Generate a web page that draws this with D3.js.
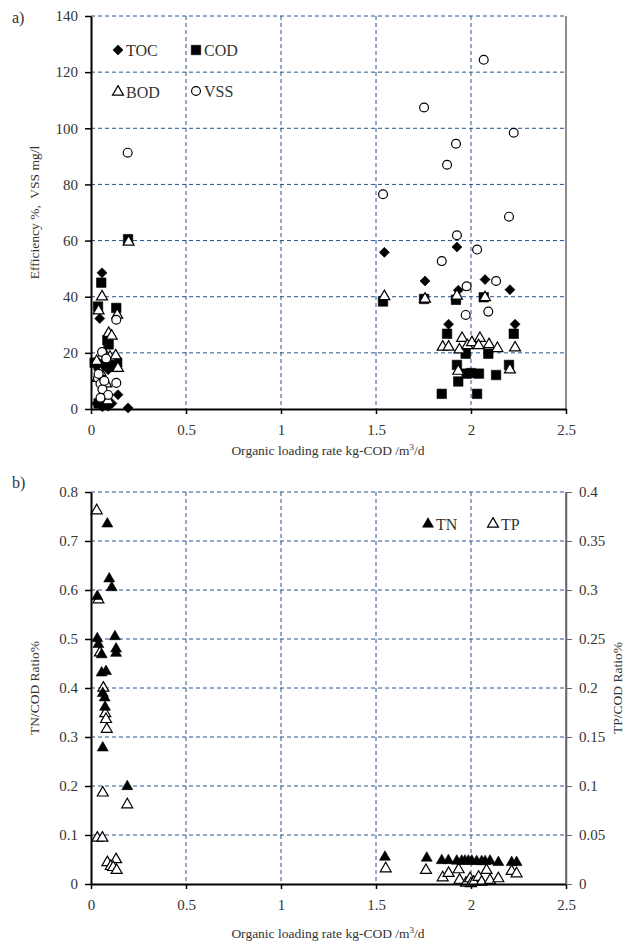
<!DOCTYPE html>
<html>
<head>
<meta charset="utf-8">
<script src="https://cdn.jsdelivr.net/npm/d3@7"></script>
<style>
  body { margin: 0; background: #fff; }
  svg text { font-family: "Liberation Serif", "DejaVu Serif", serif; fill: #333; white-space: pre; }
</style>
</head>
<body>
<svg id="chart" width="627" height="943"></svg>
<script>
(function() {

  // Tick values
  var xTicks = [0, 0.5, 1, 1.5, 2, 2.5];
  var effTicks = [0, 20, 40, 60, 80, 100, 120, 140];
  var tnTicks = [0, 0.1, 0.2, 0.3, 0.4, 0.5, 0.6, 0.7, 0.8];
  var tpTicks = [0, 0.05, 0.1, 0.15, 0.2, 0.25, 0.3, 0.35, 0.4];

  // Panel a) series: [loading rate, value]
  var tocData = [
    [0.058, 48.5], [0.046, 32.2], [0.03, 16], [0.05, 15], [0.075, 17], [0.1, 15.5],
    [0.12, 17], [0.09, 14], [0.142, 5.1], [0.195, 0.4], [0.03, 2], [0.05, 1.5],
    [0.07, 3], [0.09, 1], [0.11, 2], [0.06, 0.8],
    [1.544, 55.8], [1.926, 57.7], [1.758, 45.6], [2.074, 46.1], [1.933, 42.3],
    [2.205, 42.5], [1.882, 30.2], [2.232, 30.2]
  ];
  var codData = [
    [0.195, 60.5], [0.054, 45], [0.037, 36.5], [0.133, 36], [0.086, 24.5], [0.093, 23],
    [0.019, 16.5], [0.04, 15.5], [0.07, 16], [0.1, 17.5], [0.138, 16.5], [0.12, 15],
    [0.06, 2.5], [0.08, 2], [0.04, 2],
    [1.537, 38.3], [1.753, 39.2], [1.921, 38.9], [2.067, 39.8], [1.874, 26.8],
    [2.225, 26.8], [1.972, 19.7], [2.091, 19.7], [1.926, 15.7], [2.2, 15.7],
    [1.933, 9.8], [1.977, 12.6], [2.0, 12.8], [2.042, 12.6], [2.132, 12.1],
    [1.846, 5.4], [2.032, 5.4]
  ];
  var bodData = [
    [0.198, 59.5], [0.058, 40], [0.04, 35], [0.138, 33.5], [0.093, 27], [0.109, 26],
    [0.07, 20], [0.03, 17], [0.1, 18.5], [0.142, 14.5], [0.13, 19], [0.05, 13],
    [0.035, 11], [0.08, 9], [0.06, 5], [0.09, 3],
    [1.544, 40.1], [1.758, 39.2], [1.926, 40.3], [2.074, 39.7], [1.851, 22.1],
    [1.882, 22.1], [1.953, 25.2], [1.939, 21.1], [1.981, 22.6], [2.005, 23.7],
    [2.047, 25.2], [2.04, 22.6], [2.095, 23.0], [2.139, 21.6], [2.232, 21.8],
    [2.205, 14.0], [1.933, 13.5]
  ];
  var vssData = [
    [0.193, 91.3], [0.133, 31.8], [0.058, 20.3], [0.08, 18], [0.037, 11], [0.133, 9.3],
    [0.05, 9], [0.06, 7], [0.04, 12.5], [0.07, 10], [0.09, 5], [0.05, 4],
    [2.067, 124.4], [1.753, 107.4], [2.225, 98.4], [1.921, 94.5], [1.874, 87.0],
    [1.537, 76.5], [2.2, 68.5], [1.926, 61.9], [2.032, 56.8], [1.846, 52.7],
    [2.132, 45.6], [1.977, 43.7], [2.091, 34.7], [1.972, 33.5]
  ];

  // Panel b) series
  var tnData = [
    [0.086, 0.735], [0.096, 0.623], [0.109, 0.605], [0.033, 0.587], [0.033, 0.501],
    [0.039, 0.489], [0.126, 0.505], [0.132, 0.48], [0.132, 0.471], [0.056, 0.468],
    [0.056, 0.431], [0.079, 0.434], [0.062, 0.389], [0.072, 0.38], [0.074, 0.361],
    [0.062, 0.278], [0.191, 0.199],
    [1.547, 0.055], [1.767, 0.053], [1.846, 0.048], [1.881, 0.048], [1.925, 0.047],
    [1.951, 0.047], [1.968, 0.047], [1.986, 0.047], [2.004, 0.047], [2.03, 0.046],
    [2.056, 0.046], [2.074, 0.046], [2.1, 0.047], [2.144, 0.044], [2.214, 0.044],
    [2.24, 0.044]
  ];
  var tpData = [
    [0.03, 0.381], [0.039, 0.29], [0.047, 0.236], [0.065, 0.2], [0.075, 0.174],
    [0.079, 0.168], [0.083, 0.158], [0.062, 0.093], [0.191, 0.081], [0.033, 0.047],
    [0.06, 0.047], [0.086, 0.022], [0.132, 0.025], [0.104, 0.018], [0.117, 0.017],
    [0.135, 0.014],
    [1.551, 0.0157], [1.763, 0.014], [1.851, 0.0065], [1.882, 0.011], [1.935, 0.0147],
    [1.94, 0.004], [1.974, 0.001], [1.995, 0.0055], [2.0, 0.0005], [2.015, 0.002],
    [2.04, 0.007], [2.056, 0.002], [2.082, 0.014], [2.1, 0.0038], [2.144, 0.0055],
    [2.214, 0.013], [2.24, 0.0106]
  ];

  // Design Variables
  var left = 91, right = 566;
  var gridColor = "#24548a";
  var tickFont = 15;
  var fmt = function(d) { return String(d); };

  var svg = d3.select("#chart");

  var x = d3.scaleLinear().domain([0, 2.5]).range([left, right]);

  var yA = d3.scaleLinear().domain([0, 140]).range([409, 16]);
  var yB = d3.scaleLinear().domain([0, 0.8]).range([884, 492]);
  var yB2 = d3.scaleLinear().domain([0, 0.4]).range([884, 492]);

  var markers = {
    diamond: { path: d3.symbol().type(d3.symbolSquare).size(50)(), rotate: 45, fill: "#000" },
    square: { path: d3.symbol().type(d3.symbolSquare).size(90)(), rotate: 0, fill: "#000" },
    triOpen: { path: d3.symbol().type(d3.symbolTriangle).size(52)(), rotate: 0, fill: "#fff" },
    triFill: { path: d3.symbol().type(d3.symbolTriangle).size(52)(), rotate: 0, fill: "#000" },
    circle: { path: d3.symbol().type(d3.symbolCircle).size(62)(), rotate: 0, fill: "#fff" }
  };

  function drawPanel(y, ticks, top, bottom) {
    var g = svg.append("g");

    // grid
    g.selectAll(".hgrid").data(ticks.slice(1))
      .enter().append("line")
      .attr("x1", left).attr("x2", right)
      .attr("y1", function(d) { return y(d); }).attr("y2", function(d) { return y(d); })
      .attr("stroke", gridColor).attr("stroke-width", 1).attr("stroke-dasharray", "4,3");
    g.selectAll(".vgrid").data(xTicks.slice(1, -1))
      .enter().append("line")
      .attr("y1", top).attr("y2", bottom)
      .attr("x1", function(d) { return x(d); }).attr("x2", function(d) { return x(d); })
      .attr("stroke", gridColor).attr("stroke-width", 1).attr("stroke-dasharray", "4,3");

    // right border
    g.append("line")
      .attr("x1", right).attr("x2", right).attr("y1", top).attr("y2", bottom)
      .attr("stroke", "#666").attr("stroke-width", 1.5);

    return g;
  }

  function styleAxis(axisG) {
    axisG.select(".domain").attr("stroke", "#000").attr("stroke-width", 2);
    axisG.selectAll(".tick line").attr("stroke", "#000").attr("stroke-width", 1.5);
    axisG.selectAll(".tick text")
      .attr("font-size", tickFont)
      .attr("font-family", "Liberation Serif, serif")
      .attr("fill", "#404040");
  }

  function drawAxes(y, ticks, bottom) {
    var ax = svg.append("g")
      .attr("transform", "translate(" + left + ",0)")
      .call(d3.axisLeft(y).tickValues(ticks).tickFormat(fmt).tickSize(6).tickSizeOuter(0).tickPadding(7));
    styleAxis(ax);

    var bx = svg.append("g")
      .attr("transform", "translate(0," + bottom + ")")
      .call(d3.axisBottom(x).tickValues(xTicks).tickFormat(fmt).tickSize(5).tickSizeOuter(0).tickPadding(10));
    styleAxis(bx);
  }

  function drawSeries(data, y, m) {
    svg.append("g").selectAll("path").data(data)
      .enter().append("path")
      .attr("d", m.path)
      .attr("transform", function(d) {
        return "translate(" + x(d[0]) + "," + y(d[1]) + ") rotate(" + m.rotate + ")";
      })
      .attr("fill", m.fill)
      .attr("stroke", "#000")
      .attr("stroke-width", m.fill === "#fff" ? 1.2 : 0.6);
  }

  function legendItem(px, py, m, label) {
    svg.append("path")
      .attr("d", m.path)
      .attr("transform", "translate(" + px + "," + py + ") rotate(" + m.rotate + ")")
      .attr("fill", m.fill).attr("stroke", "#000")
      .attr("stroke-width", m.fill === "#fff" ? 1.2 : 0.6);
    svg.append("text")
      .attr("x", px + 8).attr("y", py + 5.5)
      .attr("font-size", 16)
      .text(label);
  }

  // ---- Panel a)
  drawPanel(yA, effTicks, 16, 409);
  drawSeries(tocData, yA, markers.diamond);
  drawSeries(codData, yA, markers.square);
  drawSeries(bodData, yA, markers.triOpen);
  drawSeries(vssData, yA, markers.circle);
  drawAxes(yA, effTicks, 409);

  legendItem(118, 50, markers.diamond, "TOC");
  legendItem(196, 50, markers.square, "COD");
  legendItem(118, 92, markers.triOpen, "BOD");
  legendItem(196, 91, markers.circle, "VSS");

  svg.append("text").attr("x", 12).attr("y", 23).attr("font-size", 16).text("a)");
  svg.append("text")
    .attr("transform", "translate(39," + (16 + 409) / 2 + ") rotate(-90)")
    .attr("text-anchor", "middle").attr("font-size", 13.5)
    .text("Efficiency %,  VSS mg/l");

  var xtA = svg.append("text").attr("x", 328).attr("y", 455)
    .attr("text-anchor", "middle").attr("font-size", 13.5);
  xtA.append("tspan").text("Organic loading rate kg-COD /m");
  xtA.append("tspan").attr("dy", -5).attr("font-size", 9).text("3");
  xtA.append("tspan").attr("dy", 5).text("/d");

  // ---- Panel b)
  drawPanel(yB, tnTicks, 492, 884);
  drawSeries(tpData, yB2, markers.triOpen);
  drawSeries(tnData, yB, markers.triFill);
  drawAxes(yB, tnTicks, 884);

  var rax = svg.append("g")
    .attr("transform", "translate(" + right + ",0)")
    .call(d3.axisRight(yB2).tickValues(tpTicks).tickFormat(fmt).tickSize(6).tickSizeOuter(0).tickPadding(7));
  rax.select(".domain").attr("stroke", "#666").attr("stroke-width", 1.5);
  rax.selectAll(".tick line").attr("stroke", "#666");
  rax.selectAll(".tick text").attr("font-size", tickFont).attr("font-family", "Liberation Serif, serif").attr("fill", "#404040");

  legendItem(428, 524, markers.triFill, "TN");
  legendItem(493, 524, markers.triOpen, "TP");

  svg.append("text").attr("x", 12).attr("y", 488).attr("font-size", 16).text("b)");
  svg.append("text")
    .attr("transform", "translate(39," + (492 + 884) / 2 + ") rotate(-90)")
    .attr("text-anchor", "middle").attr("font-size", 13.5)
    .text("TN/COD Ratio%");
  svg.append("text")
    .attr("transform", "translate(622," + (492 + 884) / 2 + ") rotate(-90)")
    .attr("text-anchor", "middle").attr("font-size", 13.5)
    .text("TP/COD Ratio%");

  var xtB = svg.append("text").attr("x", 328).attr("y", 938)
    .attr("text-anchor", "middle").attr("font-size", 13.5);
  xtB.append("tspan").text("Organic loading rate kg-COD /m");
  xtB.append("tspan").attr("dy", -5).attr("font-size", 9).text("3");
  xtB.append("tspan").attr("dy", 5).text("/d");

})()
</script>
</body>
</html>
